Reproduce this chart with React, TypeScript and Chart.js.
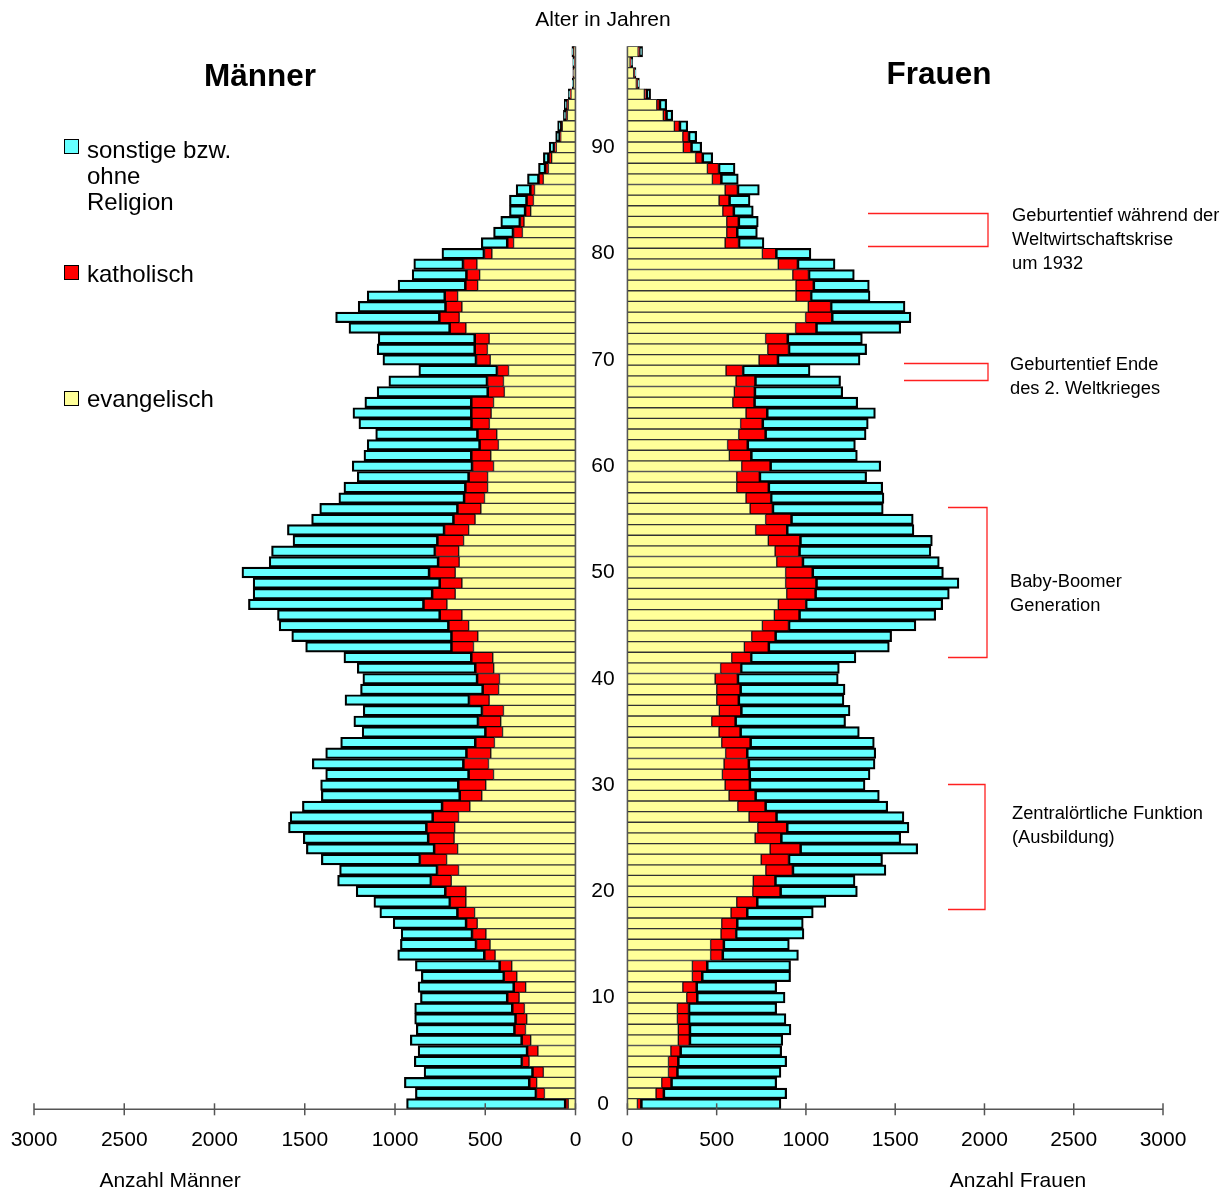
import React, { useEffect, useRef } from "react";
import { Chart, registerables } from "chart.js";

Chart.register(...registerables);

// ---- data ----
const AGES: string[] = Array.from({ length: 100 }, (_, i) => String(i));
const X_TICKS = [0, 500, 1000, 1500, 2000, 2500, 3000];
const AGE_TICKS = [0, 10, 20, 30, 40, 50, 60, 70, 80, 90];

const MEN_EVANG = [
  40, 172, 215, 178, 257, 208, 248, 277, 270, 283,
  312, 276, 325, 353, 445, 473, 496, 544, 559, 607,
  607, 688, 648, 714, 653, 672, 669, 648, 585, 519,
  497, 454, 482, 469, 449, 404, 414, 399, 478, 426,
  421, 453, 458, 565, 541, 592, 629, 712, 666, 629,
  666, 644, 647, 620, 592, 556, 524, 504, 487, 487,
  454, 469, 427, 436, 477, 467, 454, 394, 399, 371,
  472, 488, 478, 607, 644, 629, 653, 542, 531, 546,
  463, 343, 294, 285, 248, 233, 227, 178, 150, 132,
  106, 82, 73, 45, 40, 25, 12, 8, 5, 8,
];
const MEN_KATH = [
  14, 44, 38, 57, 37, 57, 47, 58, 59, 64,
  63, 63, 69, 64, 57, 75, 74, 59, 92, 86,
  111, 110, 116, 145, 127, 141, 154, 140, 151, 119,
  149, 135, 136, 132, 103, 92, 123, 116, 109, 85,
  121, 99, 116, 119, 143, 109, 120, 127, 125, 120,
  142, 114, 129, 142, 133, 117, 127, 110, 120, 102,
  116, 105, 101, 104, 96, 107, 120, 89, 88, 61,
  76, 67, 77, 87, 107, 88, 68, 65, 70, 74,
  41, 32, 49, 20, 28, 35, 20, 24, 15, 15,
  10, 3, 3, 5, 5, 5, 2, 2, 2, 2,
];
const MEN_SONST = [
  882, 671, 695, 604, 599, 607, 620, 547, 562, 544,
  484, 533, 460, 470, 483, 422, 396, 407, 433, 424,
  497, 520, 543, 549, 711, 695, 767, 793, 777, 770,
  766, 795, 840, 783, 749, 686, 691, 661, 690, 680,
  636, 657, 709, 811, 888, 941, 902, 973, 995, 1037,
  1040, 939, 908, 803, 871, 789, 766, 697, 676, 620,
  667, 598, 626, 567, 627, 659, 593, 616, 547, 436,
  519, 544, 538, 561, 578, 487, 433, 376, 304, 276,
  236, 147, 111, 109, 90, 98, 82, 64, 40, 31,
  30, 25, 23, 17, 17, 10, 4, 5, 8, 10,
];

const WOMEN_EVANG = [
  56, 160, 192, 230, 230, 243, 285, 285, 280, 280,
  332, 310, 364, 364, 466, 466, 524, 528, 580, 612,
  702, 705, 775, 749, 799, 715, 730, 681, 618, 569,
  547, 532, 541, 550, 528, 513, 472, 515, 500, 500,
  491, 522, 584, 655, 696, 756, 823, 845, 892, 886,
  886, 836, 827, 789, 718, 774, 687, 664, 612, 612,
  640, 571, 561, 623, 634, 664, 590, 599, 608, 552,
  737, 786, 774, 942, 998, 1013, 944, 944, 926, 845,
  756, 547, 556, 556, 534, 513, 547, 476, 448, 382,
  313, 310, 263, 201, 164, 95, 50, 35, 15, 60,
];
const WOMEN_KATH = [
  19, 41, 52, 47, 52, 52, 62, 62, 62, 62,
  56, 75, 52, 80, 65, 71, 82, 84, 88, 112,
  153, 121, 149, 153, 168, 144, 162, 151, 153, 146,
  136, 150, 136, 118, 159, 118, 131, 120, 121, 131,
  125, 112, 106, 134, 131, 146, 138, 153, 159, 170,
  149, 144, 134, 177, 174, 142, 125, 138, 177, 127,
  159, 120, 110, 148, 121, 116, 119, 112, 106, 93,
  103, 116, 121, 114, 146, 125, 82, 97, 88, 107,
  75, 75, 56, 65, 59, 56, 69, 47, 62, 37,
  43, 32, 28, 15, 15, 10, 7, 5, 5, 8,
];
const WOMEN_SONST = [
  785, 691, 592, 583, 610, 569, 523, 569, 546, 494,
  495, 451, 498, 470, 427, 370, 383, 373, 373, 388,
  433, 449, 524, 527, 659, 672, 685, 717, 687, 696,
  648, 677, 710, 723, 696, 668, 619, 612, 592, 588,
  565, 553, 590, 678, 653, 714, 766, 768, 752, 801,
  735, 767, 739, 742, 713, 685, 621, 635, 641, 601,
  620, 597, 606, 566, 594, 609, 581, 495, 480, 378,
  463, 438, 421, 475, 444, 417, 333, 314, 257, 211,
  197, 143, 116, 112, 112, 118, 123, 98, 93, 59,
  60, 46, 47, 38, 41, 25, 10, 8, 10, 17,
];

const YELLOW = "#FFFF99";
const RED = "#FF0000";
const CYAN = "#66FFFF";
const FONT = '"Liberation Sans", Arial, Helvetica, sans-serif';

function axisPlugin(side: "left" | "right") {
  return {
    id: "axes_" + side,
    afterDraw(chart: any) {
      const { ctx, chartArea, scales } = chart;
      const xs = scales.x;
      const ys = scales.y;
      const b = chartArea.bottom;
      ctx.save();
      ctx.strokeStyle = "#555";
      ctx.lineWidth = 1.5;
      ctx.beginPath();
      ctx.moveTo(chartArea.left, b);
      ctx.lineTo(chartArea.right, b);
      ctx.stroke();
      const x0 = xs.getPixelForValue(0);
      ctx.beginPath();
      ctx.moveTo(x0, chartArea.top);
      ctx.lineTo(x0, b);
      ctx.stroke();
      ctx.fillStyle = "#000";
      ctx.font = `21px ${FONT}`;
      ctx.textAlign = "center";
      ctx.textBaseline = "middle";
      for (const t of X_TICKS) {
        const px = xs.getPixelForValue(t);
        ctx.beginPath();
        ctx.moveTo(px, b - 6);
        ctx.lineTo(px, b + 6);
        ctx.stroke();
        ctx.fillText(String(t), px, b + 31);
      }
      if (side === "right") {
        for (const a of AGE_TICKS) {
          const py = ys.getPixelForValue(AGES.indexOf(String(a)));
          ctx.fillText(String(a), x0 - 24.4, py);
        }
      }
      ctx.restore();
    },
  };
}

function makeDatasets(ev: number[], ka: number[], so: number[]) {
  return [
    { label: "evangelisch", data: ev, backgroundColor: YELLOW, borderColor: "#333", borderWidth: 1, borderSkipped: false },
    { label: "katholisch", data: ka, backgroundColor: RED, borderColor: "#000", borderWidth: 1, borderSkipped: false },
    { label: "sonstige bzw. ohne Religion", data: so, backgroundColor: CYAN, borderColor: "#000", borderWidth: 2.2, borderSkipped: false },
  ];
}

function makeConfig(side: "left" | "right", padding: any, ev: number[], ka: number[], so: number[]): any {
  return {
    type: "bar",
    data: { labels: AGES, datasets: makeDatasets(ev, ka, so) },
    options: {
      indexAxis: "y",
      animation: false,
      responsive: false,
      maintainAspectRatio: false,
      layout: { padding },
      datasets: { bar: { barPercentage: 1, categoryPercentage: 1 } },
      plugins: { legend: { display: false }, tooltip: { enabled: false } },
      scales: {
        x: { display: false, stacked: true, min: 0, max: 3000, reverse: side === "left" },
        y: { display: false, stacked: true, reverse: true },
      },
    },
    plugins: [axisPlugin(side)],
  };
}

const txt = (style: React.CSSProperties): React.CSSProperties => ({
  position: "absolute",
  fontFamily: FONT,
  lineHeight: 1,
  whiteSpace: "nowrap",
  color: "#000",
  ...style,
});

export default function App() {
  const leftRef = useRef<HTMLCanvasElement>(null);
  const rightRef = useRef<HTMLCanvasElement>(null);

  useEffect(() => {
    const l = new Chart(
      leftRef.current!,
      makeConfig("left", { left: 34, right: 24.5, top: 46.3, bottom: 84.7 }, MEN_EVANG, MEN_KATH, MEN_SONST)
    );
    const r = new Chart(
      rightRef.current!,
      makeConfig("right", { left: 49.4, right: 69, top: 46.3, bottom: 84.7 }, WOMEN_EVANG, WOMEN_KATH, WOMEN_SONST)
    );
    return () => {
      l.destroy();
      r.destroy();
    };
  }, []);

  const center: React.CSSProperties = { transform: "translate(-50%, -50%)" };
  const leftMid: React.CSSProperties = { transform: "translateY(-50%)" };
  const red = "#FF2020";
  const annFont = 18.3;

  return (
    <div style={{ position: "absolute", left: 0, top: 0, width: 1232, height: 1194, background: "#fff", overflow: "hidden" }}>
      <canvas ref={leftRef} width={600} height={1194} style={{ position: "absolute", left: 0, top: 0, width: 600, height: 1194 }} />
      <canvas ref={rightRef} width={654} height={1194} style={{ position: "absolute", left: 578, top: 0, width: 654, height: 1194 }} />

      <div style={txt({ left: 603, top: 18, fontSize: 21, ...center })}>Alter in Jahren</div>
      <div style={txt({ left: 260, top: 76, fontSize: 31.5, fontWeight: "bold", ...center })}>Männer</div>
      <div style={txt({ left: 939, top: 74, fontSize: 31.5, fontWeight: "bold", ...center })}>Frauen</div>

      {/* legend */}
      <div style={{ position: "absolute", left: 64, top: 139, width: 13, height: 13, background: CYAN, border: "1.5px solid #000" }} />
      <div style={txt({ left: 87, top: 150, fontSize: 24, ...leftMid })}>sonstige bzw.</div>
      <div style={txt({ left: 87, top: 176, fontSize: 24, ...leftMid })}>ohne</div>
      <div style={txt({ left: 87, top: 202, fontSize: 24, ...leftMid })}>Religion</div>
      <div style={{ position: "absolute", left: 64, top: 265, width: 13, height: 13, background: RED, border: "1.5px solid #000" }} />
      <div style={txt({ left: 87, top: 274, fontSize: 24, ...leftMid })}>katholisch</div>
      <div style={{ position: "absolute", left: 64, top: 391, width: 13, height: 13, background: YELLOW, border: "1.5px solid #000" }} />
      <div style={txt({ left: 87, top: 399, fontSize: 24, ...leftMid })}>evangelisch</div>

      <div style={txt({ left: 170, top: 1179, fontSize: 21, ...center })}>Anzahl Männer</div>
      <div style={txt({ left: 1018, top: 1179, fontSize: 21, ...center })}>Anzahl Frauen</div>

      {/* annotations */}
      <svg width={1232} height={1194} style={{ position: "absolute", left: 0, top: 0, pointerEvents: "none" }}>
        <polyline points="868,213.5 988,213.5 988,246.5 868,246.5" fill="none" stroke={red} strokeWidth={1.3} />
        <polyline points="904,363.5 988,363.5 988,380.5 904,380.5" fill="none" stroke={red} strokeWidth={1.3} />
        <polyline points="948,507.5 987,507.5 987,657.5 948,657.5" fill="none" stroke={red} strokeWidth={1.3} />
        <polyline points="948,784.5 985,784.5 985,909.5 948,909.5" fill="none" stroke={red} strokeWidth={1.3} />
      </svg>
      <div style={txt({ left: 1012, top: 215, fontSize: annFont, ...leftMid })}>Geburtentief während der</div>
      <div style={txt({ left: 1012, top: 239, fontSize: annFont, ...leftMid })}>Weltwirtschaftskrise</div>
      <div style={txt({ left: 1012, top: 263, fontSize: annFont, ...leftMid })}>um 1932</div>
      <div style={txt({ left: 1010, top: 364, fontSize: annFont, ...leftMid })}>Geburtentief Ende</div>
      <div style={txt({ left: 1010, top: 388, fontSize: annFont, ...leftMid })}>des 2. Weltkrieges</div>
      <div style={txt({ left: 1010, top: 581, fontSize: annFont, ...leftMid })}>Baby-Boomer</div>
      <div style={txt({ left: 1010, top: 605, fontSize: annFont, ...leftMid })}>Generation</div>
      <div style={txt({ left: 1012, top: 813, fontSize: annFont, ...leftMid })}>Zentralörtliche Funktion</div>
      <div style={txt({ left: 1012, top: 837, fontSize: annFont, ...leftMid })}>(Ausbildung)</div>
    </div>
  );
}
